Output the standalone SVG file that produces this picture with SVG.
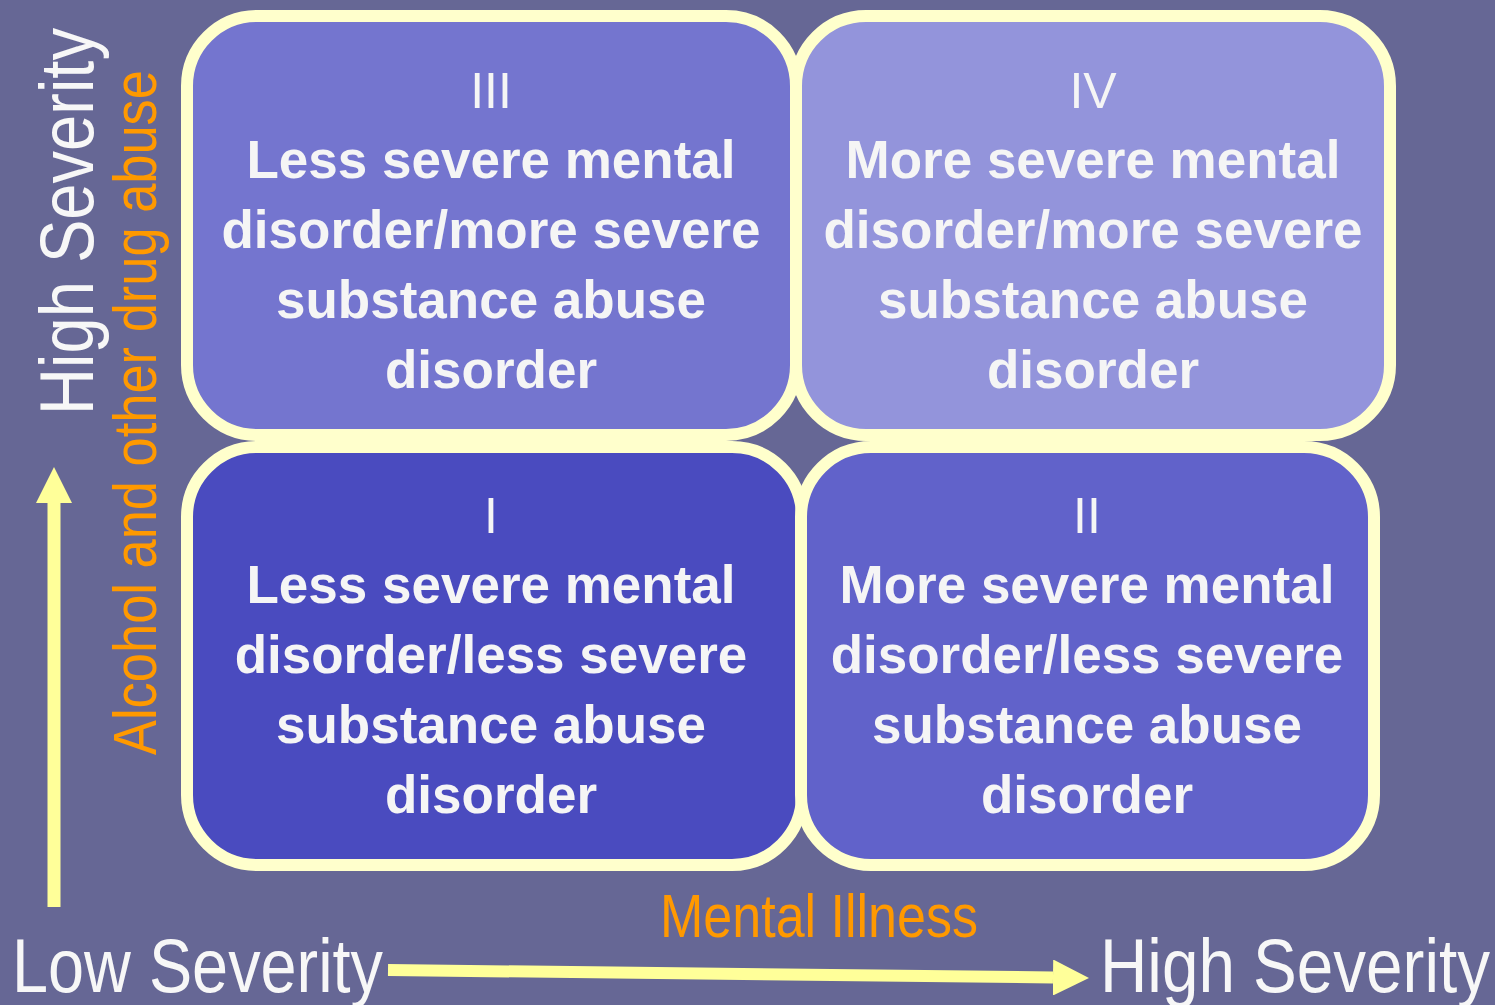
<svg xmlns="http://www.w3.org/2000/svg" width="1495" height="1005" viewBox="0 0 1495 1005">
  <style>
    .box { stroke: #FFFFCC; stroke-width: 12; }
    .num { font-family: "Liberation Sans", Arial, sans-serif; font-size: 50px; fill: #F5F5F5; text-anchor: middle; }
    .lbl { font-family: "Liberation Sans", Arial, sans-serif; font-size: 53px; font-weight: bold; fill: #F5F5F5; text-anchor: middle; }
    .axis { font-family: "Liberation Sans", Arial, sans-serif; fill: #F7F7F7; }
    .axis-o { font-family: "Liberation Sans", Arial, sans-serif; fill: #FF9900; }
  </style>
  <defs>
    <marker id="head" viewBox="0 0 36 36" refX="0" refY="18" markerWidth="36" markerHeight="36" markerUnits="userSpaceOnUse" orient="auto">
      <path d="M0,0 L36,18 L0,36 Z" fill="#FFFF99"/>
    </marker>
  </defs>

  <rect width="1495" height="1005" fill="#666795"/>

  <!-- quadrant boxes -->
  <g id="box-III">
    <rect class="box" x="187" y="16" width="609" height="419" rx="70" fill="#7475CF"/>
    <text class="num" x="491" y="108">III</text>
    <text class="lbl" x="491" y="178">Less severe mental</text>
    <text class="lbl" x="491" y="248">disorder/more severe</text>
    <text class="lbl" x="491" y="318">substance abuse</text>
    <text class="lbl" x="491" y="388">disorder</text>
  </g>
  <g id="box-IV">
    <rect class="box" x="796" y="16" width="594" height="419" rx="70" fill="#9394DB"/>
    <text class="num" x="1093" y="108">IV</text>
    <text class="lbl" x="1093" y="178">More severe mental</text>
    <text class="lbl" x="1093" y="248">disorder/more severe</text>
    <text class="lbl" x="1093" y="318">substance abuse</text>
    <text class="lbl" x="1093" y="388">disorder</text>
  </g>
  <g id="box-I">
    <rect class="box" x="187" y="447" width="615" height="418" rx="70" fill="#4A4BBF"/>
    <text class="num" x="491" y="533">I</text>
    <text class="lbl" x="491" y="603">Less severe mental</text>
    <text class="lbl" x="491" y="673">disorder/less severe</text>
    <text class="lbl" x="491" y="743">substance abuse</text>
    <text class="lbl" x="491" y="813">disorder</text>
  </g>
  <g id="box-II">
    <rect class="box" x="801" y="447" width="573" height="418" rx="70" fill="#6162CA"/>
    <text class="num" x="1087" y="533">II</text>
    <text class="lbl" x="1087" y="603">More severe mental</text>
    <text class="lbl" x="1087" y="673">disorder/less severe</text>
    <text class="lbl" x="1087" y="743">substance abuse</text>
    <text class="lbl" x="1087" y="813">disorder</text>
  </g>

  <!-- axis arrows -->
  <g id="connectors">
    <line x1="54" y1="907" x2="54" y2="503" stroke="#FFFF99" stroke-width="13" marker-end="url(#head)"/>
    <line x1="388" y1="970" x2="1053" y2="977.5" stroke="#FFFF99" stroke-width="12" marker-end="url(#head)"/>
  </g>

  <!-- axis labels -->
  <g id="axis-labels">
    <text class="axis" font-size="76" transform="translate(93,415) rotate(-90)" textLength="387" lengthAdjust="spacingAndGlyphs">High Severity</text>
    <text class="axis-o" font-size="62" transform="translate(156,755) rotate(-90)" textLength="685" lengthAdjust="spacingAndGlyphs">Alcohol and other drug abuse</text>
    <text class="axis-o" font-size="61" x="660" y="937" textLength="318" lengthAdjust="spacingAndGlyphs">Mental Illness</text>
    <text class="axis" font-size="76" x="12" y="992" textLength="371" lengthAdjust="spacingAndGlyphs">Low Severity</text>
    <text class="axis" font-size="76" x="1100" y="992" textLength="390" lengthAdjust="spacingAndGlyphs">High Severity</text>
  </g>
</svg>
